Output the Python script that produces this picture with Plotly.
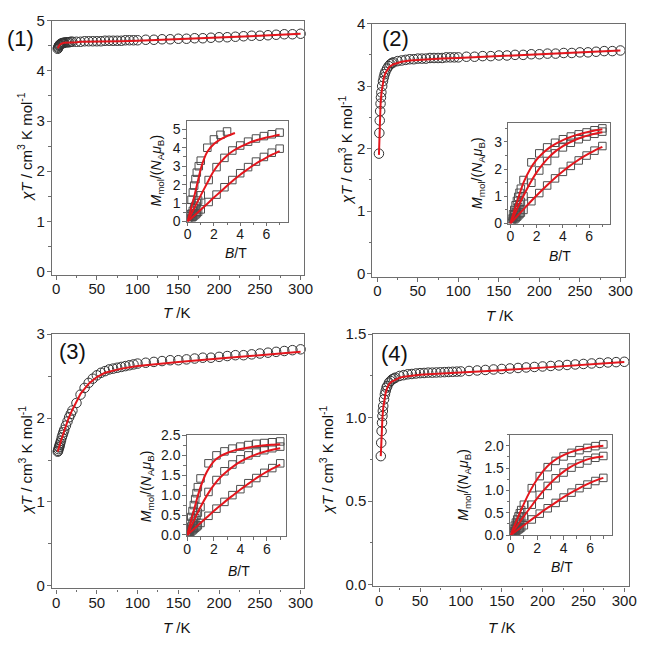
import plotly.graph_objects as go

W, H = 648, 647
FONT = "Liberation Sans, Arial, sans-serif"
RED = "#e3161d"

def px(x):
    return x / W

def py(y):
    return 1 - y / H

# ---------------- main chi*T data ----------------
T = [2, 2.5, 3, 3.5, 4, 4.5, 5, 6, 7, 8,
     9, 10, 12, 14, 16, 18, 20, 25, 30, 35,
     40, 45, 50, 55, 60, 65, 70, 75, 80, 85,
     90, 95, 100, 110, 120, 130, 140, 150, 160, 170,
     180, 190, 200, 210, 220, 230, 240, 250, 260, 270,
     280, 290, 300]

chiT1 = [4.44, 4.46, 4.48, 4.50, 4.51, 4.52, 4.53, 4.54, 4.55, 4.55,
         4.56, 4.56, 4.57, 4.57, 4.57, 4.58, 4.58, 4.58, 4.58, 4.59,
         4.59, 4.59, 4.59, 4.59, 4.60, 4.60, 4.60, 4.60, 4.60, 4.61,
         4.61, 4.61, 4.61, 4.62, 4.62, 4.63, 4.63, 4.64, 4.64, 4.65,
         4.65, 4.66, 4.67, 4.67, 4.68, 4.69, 4.70, 4.70, 4.71, 4.72,
         4.73, 4.73, 4.74]

chiT2 = [1.92, 2.25, 2.45, 2.60, 2.72, 2.82, 2.90, 3.00, 3.08, 3.14,
         3.19, 3.23, 3.28, 3.32, 3.35, 3.37, 3.38, 3.40, 3.41, 3.42,
         3.43, 3.43, 3.44, 3.44, 3.44, 3.45, 3.45, 3.45, 3.45, 3.46,
         3.46, 3.46, 3.46, 3.47, 3.47, 3.48, 3.48, 3.49, 3.49, 3.50,
         3.50, 3.51, 3.51, 3.52, 3.52, 3.53, 3.53, 3.54, 3.54, 3.55,
         3.56, 3.56, 3.57]

chiT3 = [1.60, 1.61, 1.63, 1.65, 1.66, 1.68, 1.70, 1.73, 1.77, 1.80,
         1.83, 1.86, 1.91, 1.96, 2.01, 2.05, 2.09, 2.18, 2.28, 2.36,
         2.42, 2.47, 2.51, 2.54, 2.56, 2.58, 2.59, 2.60, 2.61, 2.62,
         2.63, 2.64, 2.65, 2.66, 2.67, 2.68, 2.69, 2.69, 2.70, 2.71,
         2.72, 2.72, 2.73, 2.74, 2.75, 2.75, 2.76, 2.77, 2.78, 2.79,
         2.80, 2.81, 2.82]

chiT4 = [0.77, 0.85, 0.92, 0.97, 1.01, 1.04, 1.07, 1.11, 1.14, 1.16,
         1.18, 1.19, 1.21, 1.22, 1.23, 1.235, 1.24, 1.25, 1.255, 1.26,
         1.262, 1.265, 1.267, 1.268, 1.27, 1.27, 1.271, 1.272, 1.273, 1.274,
         1.275, 1.276, 1.277, 1.28, 1.283, 1.286, 1.289, 1.292, 1.295, 1.298,
         1.301, 1.304, 1.307, 1.31, 1.313, 1.316, 1.319, 1.322, 1.325, 1.328,
         1.331, 1.333, 1.335]

Tfit = [2, 2.5, 3, 4, 5, 6, 8, 10, 12, 15, 20, 25, 30, 40, 50, 60, 80, 100, 150, 200, 250, 300]
fit1 = [4.45, 4.47, 4.49, 4.51, 4.53, 4.54, 4.55, 4.56, 4.56, 4.57, 4.57, 4.57, 4.58, 4.58, 4.58,
        4.59, 4.59, 4.60, 4.63, 4.66, 4.70, 4.74]
fit2 = [1.90, 2.22, 2.44, 2.71, 2.88, 2.99, 3.13, 3.21, 3.26, 3.31, 3.35, 3.37, 3.39, 3.41, 3.42,
        3.43, 3.44, 3.45, 3.48, 3.51, 3.54, 3.57]
fit3 = [1.60, 1.62, 1.64, 1.67, 1.70, 1.73, 1.79, 1.85, 1.91, 1.99, 2.10, 2.20, 2.29, 2.41, 2.49,
        2.54, 2.59, 2.62, 2.67, 2.71, 2.75, 2.79]
fit4 = [0.77, 0.85, 0.91, 1.00, 1.06, 1.10, 1.15, 1.18, 1.20, 1.215, 1.23, 1.24, 1.245, 1.252, 1.257,
        1.26, 1.265, 1.27, 1.285, 1.30, 1.318, 1.333]

# ---------------- inset magnetisation data ----------------
BM = [0, 0.1, 0.2, 0.3, 0.4, 0.5, 0.6, 0.7, 0.8, 1.0, 1.6, 2.2, 2.8, 3.4, 4.0, 4.6, 5.2, 5.8, 6.4, 7.0]
BF = [0, 0.5, 1.0, 1.5, 2.0, 2.5, 3.0, 3.5, 4.0, 4.5, 5.0, 5.5, 6.0, 6.5, 7.0]

B1a = [0, 0.1, 0.2, 0.3, 0.4, 0.5, 0.6, 0.7, 0.85, 1.0, 1.5, 2.0, 2.5, 3.0]
M1a = [0, 0.38, 0.78, 1.18, 1.58, 1.95, 2.3, 2.65, 3.0, 3.3, 4.0, 4.45, 4.7, 4.88]
BF1a = [0, 0.25, 0.5, 0.75, 1.0, 1.25, 1.5, 2.0, 2.5, 3.0, 3.6]
F1a = [0, 0.68, 1.35, 2.1, 2.85, 3.4, 3.78, 4.2, 4.45, 4.63, 4.8]
M1b = [0, 0.14, 0.29, 0.43, 0.58, 0.72, 0.86, 1.0, 1.14, 1.42, 2.25, 2.95, 3.45, 3.85, 4.12, 4.33, 4.5, 4.63, 4.73, 4.82]
F1b = [0, 0.72, 1.42, 2.1, 2.75, 3.22, 3.58, 3.85, 4.05, 4.21, 4.35, 4.46, 4.55, 4.63, 4.70]
M1c = [0, 0.06, 0.13, 0.19, 0.26, 0.33, 0.39, 0.46, 0.53, 0.66, 1.06, 1.46, 1.86, 2.25, 2.62, 2.95, 3.25, 3.5, 3.73, 3.95]
F1c = [0, 0.32, 0.64, 0.97, 1.3, 1.62, 1.94, 2.25, 2.54, 2.8, 3.05, 3.27, 3.47, 3.65, 3.82]

M2a = [0, 0.17, 0.34, 0.5, 0.67, 0.83, 0.98, 1.13, 1.28, 1.6, 2.25, 2.58, 2.8, 2.97, 3.1, 3.2, 3.28, 3.35, 3.43, 3.5]
F2a = [0, 0.78, 1.5, 2.0, 2.35, 2.6, 2.8, 2.95, 3.07, 3.17, 3.25, 3.32, 3.38, 3.43, 3.47]
M2b = [0, 0.1, 0.2, 0.3, 0.4, 0.5, 0.6, 0.7, 0.8, 1.0, 1.5, 1.95, 2.3, 2.58, 2.8, 2.97, 3.1, 3.2, 3.3, 3.38]
F2b = [0, 0.52, 1.02, 1.48, 1.88, 2.2, 2.47, 2.68, 2.85, 2.98, 3.09, 3.18, 3.25, 3.31, 3.36]
M2c = [0, 0.05, 0.1, 0.15, 0.2, 0.25, 0.3, 0.35, 0.4, 0.5, 0.82, 1.12, 1.4, 1.66, 1.9, 2.12, 2.32, 2.5, 2.68, 2.85]
F2c = [0, 0.26, 0.52, 0.78, 1.03, 1.27, 1.5, 1.72, 1.92, 2.11, 2.28, 2.44, 2.58, 2.71, 2.82]

M3a = [0, 0.15, 0.3, 0.45, 0.6, 0.75, 0.9, 1.05, 1.2, 1.42, 1.8, 2.0, 2.1, 2.17, 2.22, 2.26, 2.29, 2.31, 2.33, 2.35]
F3a = [0, 0.62, 1.2, 1.6, 1.85, 1.98, 2.06, 2.12, 2.16, 2.19, 2.22, 2.24, 2.26, 2.27, 2.28]
M3b = [0, 0.07, 0.14, 0.21, 0.28, 0.35, 0.42, 0.49, 0.56, 0.7, 1.08, 1.38, 1.6, 1.77, 1.9, 2.0, 2.07, 2.13, 2.18, 2.22]
F3b = [0, 0.36, 0.7, 1.0, 1.25, 1.45, 1.6, 1.73, 1.84, 1.93, 2.0, 2.06, 2.11, 2.15, 2.18]
M3c = [0, 0.03, 0.06, 0.09, 0.12, 0.15, 0.18, 0.21, 0.24, 0.3, 0.48, 0.66, 0.83, 1.0, 1.15, 1.3, 1.43, 1.56, 1.68, 1.8]
F3c = [0, 0.15, 0.3, 0.45, 0.6, 0.74, 0.88, 1.01, 1.14, 1.26, 1.38, 1.49, 1.59, 1.68, 1.77]

M4a = [0, 0.07, 0.14, 0.21, 0.28, 0.35, 0.42, 0.49, 0.56, 0.68, 1.05, 1.32, 1.52, 1.66, 1.76, 1.84, 1.9, 1.95, 1.99, 2.03]
F4a = [0, 0.36, 0.7, 1.0, 1.25, 1.45, 1.6, 1.71, 1.79, 1.85, 1.9, 1.93, 1.96, 1.98, 2.0]
M4b = [0, 0.042, 0.084, 0.126, 0.168, 0.21, 0.252, 0.294, 0.336, 0.42, 0.68, 0.9, 1.1, 1.27, 1.4, 1.51, 1.6, 1.67, 1.73, 1.77]
F4b = [0, 0.21, 0.42, 0.62, 0.82, 1.0, 1.16, 1.3, 1.42, 1.52, 1.6, 1.66, 1.71, 1.74, 1.76]
M4c = [0, 0.022, 0.044, 0.066, 0.088, 0.11, 0.132, 0.154, 0.176, 0.22, 0.35, 0.48, 0.6, 0.72, 0.84, 0.95, 1.05, 1.13, 1.21, 1.28]
F4c = [0, 0.11, 0.22, 0.33, 0.44, 0.55, 0.65, 0.75, 0.85, 0.94, 1.02, 1.1, 1.17, 1.23, 1.28]

panel_labels = ["(1)", "(2)", "(3)", "(4)"]

# ---------------- figure ----------------
fig = go.Figure()

main_chi = [chiT1, chiT2, chiT3, chiT4]
main_fit = [fit1, fit2, fit3, fit4]
for i in range(4):
    ax = "" if i == 0 else str(i + 1)
    fig.add_trace(go.Scatter(x=T, y=main_chi[i], mode="markers", xaxis="x" + ax, yaxis="y" + ax,
                             marker=dict(symbol="circle-open", size=9.5, color="#333333",
                                         line=dict(width=1, color="#333333")),
                             showlegend=False, cliponaxis=False))
    fig.add_trace(go.Scatter(x=Tfit, y=main_fit[i], mode="lines", xaxis="x" + ax, yaxis="y" + ax,
                             line=dict(color=RED, width=2), showlegend=False))

insets = [
    [(B1a, M1a, BF1a, F1a), (BM, M1b, BF, F1b), (BM, M1c, BF, F1c)],
    [(BM, M2a, BF, F2a), (BM, M2b, BF, F2b), (BM, M2c, BF, F2c)],
    [(BM, M3a, BF, F3a), (BM, M3b, BF, F3b), (BM, M3c, BF, F3c)],
    [(BM, M4a, BF, F4a), (BM, M4b, BF, F4b), (BM, M4c, BF, F4c)],
]
for i, curves in enumerate(insets):
    ax = str(i + 5)
    for (bx, my, bf, mf) in curves:
        fig.add_trace(go.Scatter(x=bx, y=my, mode="markers", xaxis="x" + ax, yaxis="y" + ax,
                                 marker=dict(symbol="square-open", size=7.5, color="#4d4d4d",
                                             line=dict(width=1, color="#4d4d4d")),
                                 showlegend=False))
    for (bx, my, bf, mf) in curves:
        fig.add_trace(go.Scatter(x=bf, y=mf, mode="lines", xaxis="x" + ax, yaxis="y" + ax,
                                 line=dict(color=RED, width=2, shape="spline", smoothing=0.8),
                                 showlegend=False))

AX = dict(showline=True, mirror=True, linecolor="#6e6e6e", linewidth=1.3,
          ticks="outside", ticklen=4, tickwidth=1, tickcolor="#6e6e6e",
          showgrid=False, zeroline=False)

main_cfg = [
    # xdomain px, ydomain px (top,bottom), xrange, yrange, ydtick, yminor, fmt
    ((49, 306), (12, 273), [-5, 304], [-0.065, 5.0], 1, 0.5, None),
    ((376, 634), (15, 275), [-6, 306], [-0.05, 4.0], 1, 0.5, None),
    ((49, 306), (334, 595), [-5, 304], [-0.03, 3.0], 1, 0.5, None),
    ((377, 638), (334, 593), [-7, 306], [-0.01, 1.5], 0.5, 0.25, ".1f"),
]
inset_cfg = [
    ((186.7, 290), (115, 218.3), [-0.05, 7.65], [0, 5.45], 1, 0.5, None),
    ((514.7, 618), (117, 220.3), [-0.15, 7.55], [0, 3.7], 1, 0.5, None),
    ((186.7, 287.3), (438, 541.3), [-0.02, 7.4], [-0.03, 2.5], 0.5, 0.25, ".1f"),
    ((516.7, 620), (437, 540.3), [-0.02, 7.62], [0, 2.25], 0.5, 0.25, ".1f"),
]

layout = dict(width=W, height=H, margin=dict(l=0, r=0, t=0, b=0),
              paper_bgcolor="white", plot_bgcolor="white", showlegend=False)

for i, (xd, yd, xr, yr, ydt, ymin, fmt) in enumerate(main_cfg + inset_cfg):
    n = i + 1
    xk = "xaxis" if n == 1 else "xaxis%d" % n
    yk = "yaxis" if n == 1 else "yaxis%d" % n
    ya = "y" if n == 1 else "y%d" % n
    xa = "x" if n == 1 else "x%d" % n
    is_inset = n > 4
    fs = 14 if is_inset else 15
    tf = dict(family=FONT, size=fs, color="#1a1a1a")
    xaxis = dict(AX, domain=[px(xd[0]), px(xd[1])], range=xr, anchor=ya,
                 tick0=0, dtick=2 if is_inset else 50, tickfont=tf,
                 ticklabelstandoff=-4,
                 minor=dict(ticks="outside", ticklen=2.5, tickcolor="#6e6e6e",
                            dtick=1 if is_inset else 25, tick0=0))
    yaxis = dict(AX, domain=[py(yd[1]), py(yd[0])], range=yr, anchor=xa,
                 tick0=0, dtick=ydt, tickfont=tf, ticklabelstandoff=-1,
                 minor=dict(ticks="outside", ticklen=2.5, tickcolor="#6e6e6e", dtick=ymin, tick0=0))
    if is_inset:
        xaxis["ticklen"] = 3.5
        yaxis["ticklen"] = 3.5
    if fmt:
        yaxis["tickformat"] = fmt
    layout[xk] = xaxis
    layout[yk] = yaxis

ann = []
def text(x, y, s, size=15, angle=0, xanchor="center", yanchor="middle"):
    ann.append(dict(x=px(x), y=py(y), xref="paper", yref="paper", text=s, showarrow=False,
                    textangle=angle, xanchor=xanchor, yanchor=yanchor,
                    font=dict(family=FONT, size=size, color="#111111")))

ytitle = "<i>χT</i> / cm<sup>3</sup> K mol<sup>-1</sup>"
xtitle = "<i>T</i> /K"
itit_y = "<i>M</i><sub>mol</sub>/(<i>N</i><sub>A</sub><i>μ</i><sub>B</sub>)"
itit_x = "<i>B</i>/T"

# panel labels
text(17, 30, panel_labels[0], size=22)
text(400, 30, panel_labels[1], size=22)
text(70, 352, panel_labels[2], size=22)
text(398, 354, panel_labels[3], size=22)

# main axis titles
text(21, 142, ytitle, angle=-90)
text(348, 145, ytitle, angle=-90)
text(22, 464, ytitle, angle=-90)
text(329, 463, ytitle, angle=-90)
text(177, 312, xtitle)
text(506, 315, xtitle)
text(177, 635, xtitle)
text(508, 635, xtitle)

# inset titles
text(156, 166, itit_y, size=14, angle=-90)
text(483, 168, itit_y, size=14, angle=-90)
text(146, 490, itit_y, size=14, angle=-90)
text(470, 489, itit_y, size=14, angle=-90)
text(237, 251, itit_x, size=14)
text(567, 254, itit_x, size=14)
text(240, 577, itit_x, size=14)
text(569, 573, itit_x, size=14)

layout["annotations"] = ann
fig.update_layout(**layout)
fig.write_html("out.html")
